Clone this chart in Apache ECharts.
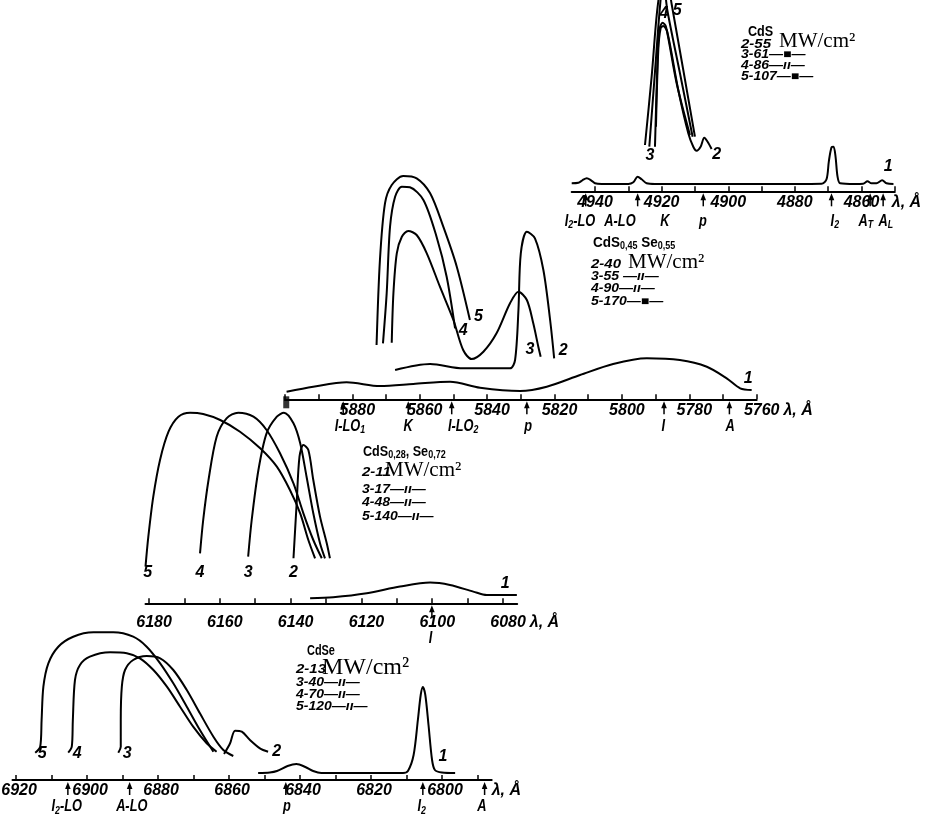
<!DOCTYPE html>
<html><head><meta charset="utf-8">
<script src="https://cdn.jsdelivr.net/npm/echarts@6/dist/echarts.min.js"></script>
<style>html,body{margin:0;padding:0;background:#fff}#c{width:928px;height:827px}</style>
</head><body><div id="c"></div>
<script>
// ---------------- Panel 1: CdS ----------------
const cdsTicks = [4940,4930,4920,4910,4900,4890,4880,4870,4860,4850];
const cdsTickLabels = [4940,4920,4900,4880,4860];
const cdsCurve1 = [[4947,8],[4945,8.5],[4943.8,11],[4942.5,13],[4941.2,11],[4940,8],[4938,7.3],[4930,7.3],[4928.5,9],[4927.2,14.5],[4926,12],[4924.5,8],[4922,7.3],[4900,7.3],[4880,7.3],[4872,7.5],[4870.5,12],[4869.8,30],[4869,44],[4868.4,44.6],[4867.8,35],[4867.2,15],[4866.4,8],[4862,7.3],[4859.5,7.5],[4858.2,10],[4857,8],[4855.5,8],[4853.8,11],[4852.5,8],[4850.4,7.3]];
const cdsCurve2 = [[4921.7,64.6],[4921.0,141.3],[4920.3,163],[4919.5,165.3],[4918.3,159.6],[4915.0,101.3],[4912.0,58],[4910.5,44.6],[4909.5,40.6],[4908.3,44.6],[4907.2,53.6],[4906.2,49.6],[4905.0,42.3]];
const cdsCurve3 = [[4922.0,44.6],[4921.3,124.6],[4920.7,161.3],[4919.7,168.6],[4918.7,164.6],[4915.5,108],[4911.5,56.3]];
const cdsCurve4 = [[4923.7,44.6],[4922.1,115],[4920.5,184.6],[4919.5,212],[4918.3,181.3],[4914.5,118],[4910.7,54.6]];
const cdsCurve5 = [[4925.0,46.3],[4923.0,114.6],[4921.2,184.6],[4919.0,225],[4917.0,187.3],[4913.5,121.3],[4910.0,54.6]];
const cdsCurveLabels = [[4923.5,36,'3'],[4903.5,37,'2'],[4919.3,178,'4'],[4915.3,181,'5'],[4852,25,'1']];
const cdsArrows = [4942.8,4927.2,4907.5,4869,4857.4,4853.5];
const cdsFeatures = [[4944.5,'I{s|2}-LO'],[4932.5,'A-LO'],[4919,'K'],[4907.6,'p'],[4868,'I{s|2}'],[4858.7,'A{s|T}'],[4852.7,'A{s|L}']];
const cdsLegend = ['CdS','2-55','3-61—■—','4-86—ıı—','5-107—■—'];

// ---------------- Panel 2: CdS0.45Se0.55 ----------------
const cdssTicks = [5900,5890,5880,5870,5860,5850,5840,5830,5820,5810,5800,5790,5780,5770,5760];
const cdssTickLabels = [5880,5860,5840,5820,5800,5780,5760];
const cdssCurve1 = [[5899.5,7.6],[5891.6,12.6],[5881.7,17],[5871.8,13.3],[5861.9,15.3],[5851.0,17.6],[5842.1,11.6],[5830.2,8.3],[5822.3,12.6],[5812.4,24.3],[5802.6,35.3],[5792.6,41],[5782.8,39.3],[5774.8,32.6],[5768.9,21],[5764.9,11],[5761.5,9.3]];
const cdssCurve2 = [[5867.3,29.3],[5856.9,35.3],[5847.1,31],[5833.2,31],[5831.7,39.3],[5830.7,89.3],[5830.0,146],[5828.2,167.6],[5825.8,161],[5823.3,129.3],[5821.3,79.3],[5820.1,41]];
const cdssCurve3 = [[5868.3,56.6],[5867.8,106],[5866.8,146],[5865.3,162.6],[5863.4,168.3],[5860.9,164.3],[5857.9,146],[5854.0,112.6],[5850.0,79.3],[5847.1,49.3],[5844.6,40.3],[5841.1,47.6],[5837.2,66],[5833.2,96],[5830.7,107.6],[5828.2,99.3],[5826.3,76],[5824.8,52.6],[5824.1,42.6]];
const cdssCurve4 = [[5870.9,56],[5869.8,105.9],[5868.8,172.6],[5867.3,202.6],[5865.3,212.6],[5862.9,212],[5858.9,199.3],[5855.0,162.6],[5852.0,122.6],[5849.5,71]];
const cdssCurve5 = [[5872.8,54.3],[5871.8,139.3],[5870.3,196],[5868.3,214.3],[5864.9,223.3],[5860.9,221],[5856.9,206],[5853.0,172.6],[5849.0,132.6],[5845.1,79.3]];
const cdssCurveLabels = [[5842.6,83,'5'],[5847.1,69,'4'],[5827.3,50,'3'],[5817.4,48.6,'2'],[5762.5,21,'1']];
const cdssArrows = [5882.7,5863.4,5850.5,5828.2,5787.5,5768.1];
const cdssFeatures = [[5880.7,'I-LO{s|1}'],[5863.4,'K'],[5847.1,'I-LO{s|2}'],[5827.8,'p'],[5787.7,'I'],[5767.9,'A']];
const cdssLegend = ['CdS{s|0,45} Se{s|0,55}','2-40','3-55 —ıı—','4-90—ıı—','5-170—■—'];

// ---------------- Panel 3: CdS0.28Se0.72 ----------------
const cdss2Ticks = [6180,6170,6160,6150,6140,6130,6120,6110,6100,6090,6080];
const cdss2TickLabels = [6180,6160,6140,6120,6100,6080];
const cdss2Curve1 = [[6134.5,5],[6128.0,6],[6118.5,10],[6109.1,16.7],[6100.6,20.7],[6095.0,18.3],[6088.4,11.7],[6084.6,8.3],[6076.1,8.3]];
const cdss2Curve2 = [[6139.2,45],[6138.3,100],[6137.5,146.7],[6136.4,158.3],[6135.0,153.3],[6133.6,123.3],[6131.7,86.7],[6129.8,60],[6128.9,45]];
const cdss2Curve3 = [[6152.0,46.6],[6151.0,83.3],[6149.1,133.3],[6146.8,170],[6143.9,186.6],[6141.9,190.6],[6139.2,180],[6137.3,160],[6135.5,126.6],[6133.6,90],[6131.7,60],[6130.3,45]];
const cdss2Curve4 = [[6165.6,50],[6164.7,83.3],[6163.2,123.3],[6160.9,166.6],[6158.1,185],[6154.8,190.6],[6150.5,186.6],[6146.8,173.3],[6143.0,150],[6139.2,120],[6136.4,90],[6133.6,63.3],[6131.2,45]];
const cdss2Curve5 = [[6181.0,36.6],[6180.2,66.6],[6178.8,106.6],[6176.9,143.3],[6174.5,171.6],[6171.7,186.6],[6168.4,190.6],[6164.7,189.3],[6159.9,183.3],[6154.3,171.6],[6148.6,155],[6143.9,136.6],[6140.2,113.3],[6137.3,90],[6135.0,63.3],[6133.1,45]];
const cdss2CurveLabels = [[6180.4,31,'5'],[6165.6,31,'4'],[6152,31,'3'],[6139.2,31,'2'],[6079.4,20,'1']];
const cdss2Arrows = [6100.1];
const cdss2Features = [[6100.5,'I']];
const cdss2Legend = ['CdS{s|0,28}, Se{s|0,72}','2-11','3-17—ıı—','4-48—ıı—','5-140—ıı—'];

// ---------------- Panel 4: CdSe ----------------
const cdseTicks = [6920,6910,6900,6890,6880,6870,6860,6850,6840,6830,6820,6810,6800,6790];
const cdseTickLabels = [6920,6900,6880,6860,6840,6820,6800];
const cdseCurve1 = [[6851.8,7],[6848.5,7.5],[6846.5,9],[6843.5,14],[6841,16],[6838.5,13],[6836.3,9],[6834,7],[6820,7],[6811,7],[6809.6,9],[6808,25],[6806.8,60],[6806,85],[6805.4,93],[6804.7,85],[6803.8,55],[6802.8,20],[6802,10],[6800,7.5],[6796.3,7]];
const cdseCurve2 = [[6861.4,26],[6859.7,36.7],[6858.3,49.3],[6856.4,48.3],[6854.1,40],[6851.3,31.7],[6849,28.3]];
const cdseCurve3 = [[6891.2,27.3],[6890.5,33.3],[6890.5,60],[6890.2,93.3],[6889.3,110],[6887.0,120],[6883.2,124],[6879.4,121.7],[6875.7,110],[6871.9,90],[6868.2,66.7],[6864.4,43.3],[6861.6,30],[6858.8,24]];
const cdseCurve4 = [[6905.3,27.3],[6904.3,33.3],[6904.0,60],[6903.4,100],[6902.0,115],[6899.2,123.3],[6893.5,127.7],[6888.8,126.7],[6885.1,121.7],[6881.3,110],[6877.5,93.3],[6873.8,73.3],[6870.1,53.3],[6866.3,36.7],[6863.5,28.3]];
const cdseCurve5 = [[6914.6,27.3],[6913.2,33.3],[6912.8,60],[6912.3,93.3],[6910.9,116.7],[6908.1,133.3],[6903.9,143.3],[6898.2,147.7],[6892.6,147.7],[6887.0,143.3],[6883.2,133.3],[6879.4,116.7],[6875.7,96.7],[6871.9,73.3],[6868.2,50],[6864.4,28.3]];
const cdseCurveLabels = [[6912.6,26,'5'],[6902.8,26,'4'],[6888.7,26,'3'],[6846.6,28,'2'],[6799.7,23,'1']];
const cdseArrows = [6905.4,6888,6844,6805.4,6788];
const cdseFeatures = [[6905.7,'I{s|2}-LO'],[6887.4,'A-LO'],[6843.7,'p'],[6805.7,'I{s|2}'],[6788.8,'A']];
const cdseLegend = ['CdSe','2-13','3-40—ıı—','4-70—ıı—','5-120—ıı—'];

// ---------------- layout ----------------
const FONT = "'Liberation Sans', 'DejaVu Sans', sans-serif";
const panels = [
  {axisY:191.3, xl:571.7, xr:894.8, min:4850, max:4947, yMax:190, ticks:cdsTicks, tl:cdsTickLabels,
   curves:[cdsCurve1,cdsCurve2,cdsCurve3,cdsCurve4,cdsCurve5], labels:cdsCurveLabels, arrows:cdsArrows, feats:cdsFeatures,
   margin:3, featDy:30, nameGap:-3, padL:0},
  {axisY:399.3, xl:284.9, xr:756.7, min:5760, max:5900, yMax:240, ticks:cdssTicks, tl:cdssTickLabels,
   curves:[cdssCurve1,cdssCurve2,cdssCurve3,cdssCurve4,cdssCurve5], labels:cdssCurveLabels, arrows:cdssArrows, feats:cdssFeatures,
   margin:3, featDy:27, nameGap:19, padL:10},
  {axisY:603.3, xl:145.5, xr:517.2, min:6076, max:6181, yMax:200, ticks:cdss2Ticks, tl:cdss2TickLabels,
   curves:[cdss2Curve1,cdss2Curve2,cdss2Curve3,cdss2Curve4,cdss2Curve5], labels:cdss2CurveLabels, arrows:cdss2Arrows, feats:cdss2Features,
   margin:11, featDy:35, nameGap:1, padL:10},
  {axisY:780, xl:12.5, xr:491.7, min:6786, max:6921, yMax:160, ticks:cdseTicks, tl:cdseTickLabels,
   curves:[cdseCurve1,cdseCurve2,cdseCurve3,cdseCurve4,cdseCurve5], labels:cdseCurveLabels, arrows:cdseArrows, feats:cdseFeatures,
   margin:3, featDy:27, nameGap:0, padL:6}
];

const grid = [], xAxis = [], yAxis = [], series = [];
const subRich = { s: { fontFamily: FONT, fontStyle:'italic', fontWeight:'bold', fontSize: 11, padding:[8,0,0,0], verticalAlign:'bottom' } };

panels.forEach((p, i) => {
  grid.push({ left: p.xl, top: p.axisY - p.yMax, width: p.xr - p.xl, height: p.yMax, containLabel:false, outerBoundsMode:'none' });
  xAxis.push({
    type:'value', gridIndex:i, inverse:true, min:p.min, max:p.max,
    axisLine:{ show:true, onZero:false, lineStyle:{ color:'#000', width:2 } },
    axisTick:{ show:true, inside:true, length:5, customValues:p.ticks, lineStyle:{ color:'#000', width:1.5 } },
    axisLabel:{ show:true, customValues:p.tl, margin:p.margin, color:'#000', fontFamily:FONT, fontStyle:'italic', fontWeight:'bold', fontSize:16,
      padding:[0,0,0,p.padL], formatter: v => String(v) },
    splitLine:{ show:false },
    name:'λ, Å', nameLocation:'start', nameGap:p.nameGap,
    nameTextStyle:{ color:'#000', fontFamily:FONT, fontStyle:'italic', fontWeight:'bold', fontSize:16, verticalAlign:'top', padding:[p.margin,0,0,0] }
  });
  yAxis.push({ type:'value', gridIndex:i, min:0, max:p.yMax, show:false });
  p.curves.forEach(c => series.push({
    type:'line', xAxisIndex:i, yAxisIndex:i, data:c, showSymbol:false, symbol:'none', smooth:0.3, clip:false, silent:true,
    lineStyle:{ color:'#000', width:2 }
  }));
  // curve number labels
  series.push({
    type:'custom', xAxisIndex:i, yAxisIndex:i, clip:false, silent:true, encode:{x:0, y:1},
    data: p.labels.map(d => [d[0], d[1]]),
    renderItem: (params, api) => {
      const pt = api.coord([api.value(0), api.value(1)]);
      return { type:'text', x:pt[0], y:pt[1], style:{ text:p.labels[params.dataIndex][2], fill:'#000',
        font:"italic bold 16px " + FONT, align:'center', verticalAlign:'middle' } };
    }
  });
  // feature arrows
  series.push({
    type:'custom', xAxisIndex:i, yAxisIndex:i, clip:false, silent:true, encode:{x:0, y:1},
    data: p.arrows.map(v => [v, 0]),
    renderItem: (params, api) => {
      const pt = api.coord([api.value(0), 0]);
      return { type:'group', children:[
        { type:'line', shape:{ x1:pt[0], y1:pt[1]+15, x2:pt[0], y2:pt[1]+5 }, style:{ stroke:'#000', lineWidth:1.5 } },
        { type:'polygon', shape:{ points:[[pt[0], pt[1]+2],[pt[0]-2.8, pt[1]+9],[pt[0]+2.8, pt[1]+9]] }, style:{ fill:'#000' } }
      ]};
    }
  });
  // feature labels
  series.push({
    type:'custom', xAxisIndex:i, yAxisIndex:i, clip:false, silent:true, encode:{x:0, y:1},
    data: p.feats.map(d => [d[0], 0]),
    renderItem: (params, api) => {
      const pt = api.coord([api.value(0), 0]);
      return { type:'text', x:pt[0], y:pt[1] + p.featDy, scaleX:0.8, style:{ text:p.feats[params.dataIndex][1], fill:'#000',
        font:"italic bold 16px " + FONT, align:'center', verticalAlign:'middle', rich: subRich } };
    }
  });
});

// black marker at the start of the CdS0.45Se0.55 axis
series.push({ type:'scatter', xAxisIndex:1, yAxisIndex:1, data:[[5899.6,-3]], symbol:'rect', symbolSize:[6,12], clip:false, silent:true,
  itemStyle:{ color:'#000' } });

// ---------------- legend blocks ----------------
const legendPos = [
  { x:741, comp:[748, 32, 14], rowY:[44, 55, 66, 77], mwX:779, mwY:41, mwSize:21 },
  { x:591, comp:[593, 243, 15], rowY:[264, 277, 289, 302], mwX:628, mwY:262, mwSize:21 },
  { x:362, comp:[363, 452, 14], rowY:[472, 490, 503, 517], mwX:385, mwY:470, mwSize:21 },
  { x:296, comp:[307, 651, 14], rowY:[669, 683, 695, 707], mwX:322, mwY:668, mwSize:24 }
];
const legends = [cdsLegend, cdssLegend, cdss2Legend, cdseLegend];
const graphic = [];
legends.forEach((L, i) => {
  const g = legendPos[i];
  graphic.push({ type:'text', x:g.comp[0], y:g.comp[1], scaleX: i === 3 ? 0.78 : 0.9, style:{ text:L[0], fill:'#000',
    font:"bold " + g.comp[2] + "px " + FONT, verticalAlign:'middle',
    rich:{ s:{ fontFamily:FONT, fontWeight:'bold', fontSize:10, padding:[7,0,0,0], verticalAlign:'bottom' } } } });
  graphic.push({ type:'text', x:g.x, y:g.rowY[0], scaleY:0.85, style:{ text:L[1], fill:'#000', font:"italic bold 15px " + FONT, verticalAlign:'middle' } });
  graphic.push({ type:'text', x:g.mwX, y:g.mwY, style:{ text:'MW/cm²', fill:'#000', font:g.mwSize + "px 'Liberation Serif', serif", verticalAlign:'middle' } });
  for (let k = 2; k < 5; k++) {
    graphic.push({ type:'text', x:g.x, y:g.rowY[k-1], scaleY:0.85, style:{ text:L[k], fill:'#000', font:"italic bold 14px " + FONT, verticalAlign:'middle' } });
  }
});

const chart = echarts.init(document.getElementById('c'), null, { renderer:'canvas' });
chart.setOption({ animation:false, backgroundColor:'#fff', grid, xAxis, yAxis, series, graphic });
</script></body></html>
